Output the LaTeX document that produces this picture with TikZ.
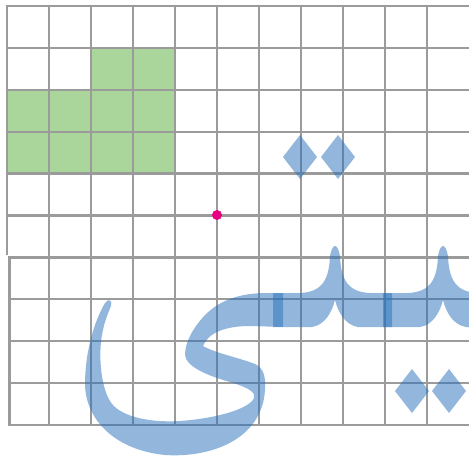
\documentclass[tikz,border=0pt]{standalone}
\definecolor{gridgray}{RGB}{155,155,155}
\definecolor{cellgreen}{RGB}{170,214,156}
\definecolor{glyphblue}{RGB}{40,112,186}
\definecolor{dotpink}{RGB}{232,0,128}
\tikzset{
  gridline/.style={draw=gridgray,line width=2.3pt},
  glyph/.style={fill=glyphblue,fill opacity=0.5},
  cell/.style={fill=cellgreen}
}
\begin{document}
\begin{tikzpicture}[x=1pt,y=-1pt]
\useasboundingbox (0,0) rectangle (469,461);
\clip (0,0) rectangle (469,461);
% green cells
\fill[cell] (91,48) rectangle (175,90);
\fill[cell] (7,90) rectangle (175,173.6);
% grid
\foreach \x in {49,91,...,427} \draw[gridline] (\x,6) -- (\x,425);
\draw[gridline] (7,4.9) -- (7,255);
\draw[gridline] (9.5,257) -- (9.5,426.1);
\foreach \y in {6,48,89.8,131.7,173.6,215.5} \draw[gridline] (5.9,\y) -- (470,\y);
\foreach \y in {257.4,299.3,341.2,383.1,425} \draw[gridline] (8.4,\y) -- (470,\y);
% final alef maksura
\fill[glyph] (283,293) -- (267,293)
  .. controls (240,293) and (220,300) .. (205,315)
  .. controls (193,328) and (185,342) .. (185,355)
  .. controls (186,366) and (205,375) .. (230,382)
  .. controls (250,388) and (256,393) .. (254,398)
  .. controls (250,408) and (220,418) .. (180,421)
  .. controls (145,423) and (118,415) .. (110,401)
  .. controls (100,385) and (98,350) .. (103,330)
  .. controls (105,320) and (109,311) .. (111,306)
  .. controls (113,300) and (108,298) .. (105,303)
  .. controls (95,320) and (85,350) .. (85,385)
  .. controls (86,420) and (115,450) .. (165,455)
  .. controls (210,458) and (262,440) .. (265,390)
  .. controls (266,375) and (263,368) .. (255,364)
  .. controls (240,358) and (215,353) .. (203,346)
  .. controls (208,333) and (225,326) .. (250,326)
  -- (283,327) -- cycle;
% medial teh
\fill[glyph] (273,293) -- (300,293)
  .. controls (322,292) and (329,280) .. (330,256)
  .. controls (331,250) and (333,246) .. (335,246)
  .. controls (337,246) and (339,250) .. (340,256)
  .. controls (341,280) and (348,292) .. (370,293)
  -- (392,293) -- (392,327) -- (358,327)
  .. controls (345,325) and (338,312) .. (335,300)
  .. controls (332,312) and (325,325) .. (312,327)
  -- (273,327) -- cycle;
% initial yeh
\fill[glyph] (383,293) -- (408,293)
  .. controls (430,292) and (437,280) .. (438,256)
  .. controls (439,250) and (441,246) .. (443,246)
  .. controls (445,246) and (447,250) .. (448,256)
  .. controls (449,280) and (456,292) .. (478,293)
  -- (490,293) -- (490,327) -- (466,327)
  .. controls (453,325) and (446,312) .. (443,300)
  .. controls (440,312) and (433,325) .. (420,327)
  -- (383,327) -- cycle;
% dots
\fill[glyph] (300,135) -- (317,157) -- (300,179) -- (283,157) -- cycle;
\fill[glyph] (338,135) -- (355,157) -- (338,179) -- (321,157) -- cycle;
\fill[glyph] (412,369) -- (429,391) -- (412,413) -- (395,391) -- cycle;
\fill[glyph] (449,369) -- (466,391) -- (449,413) -- (432,391) -- cycle;
% point
\fill[dotpink] (217,215) circle (5);
\end{tikzpicture}
\end{document}
